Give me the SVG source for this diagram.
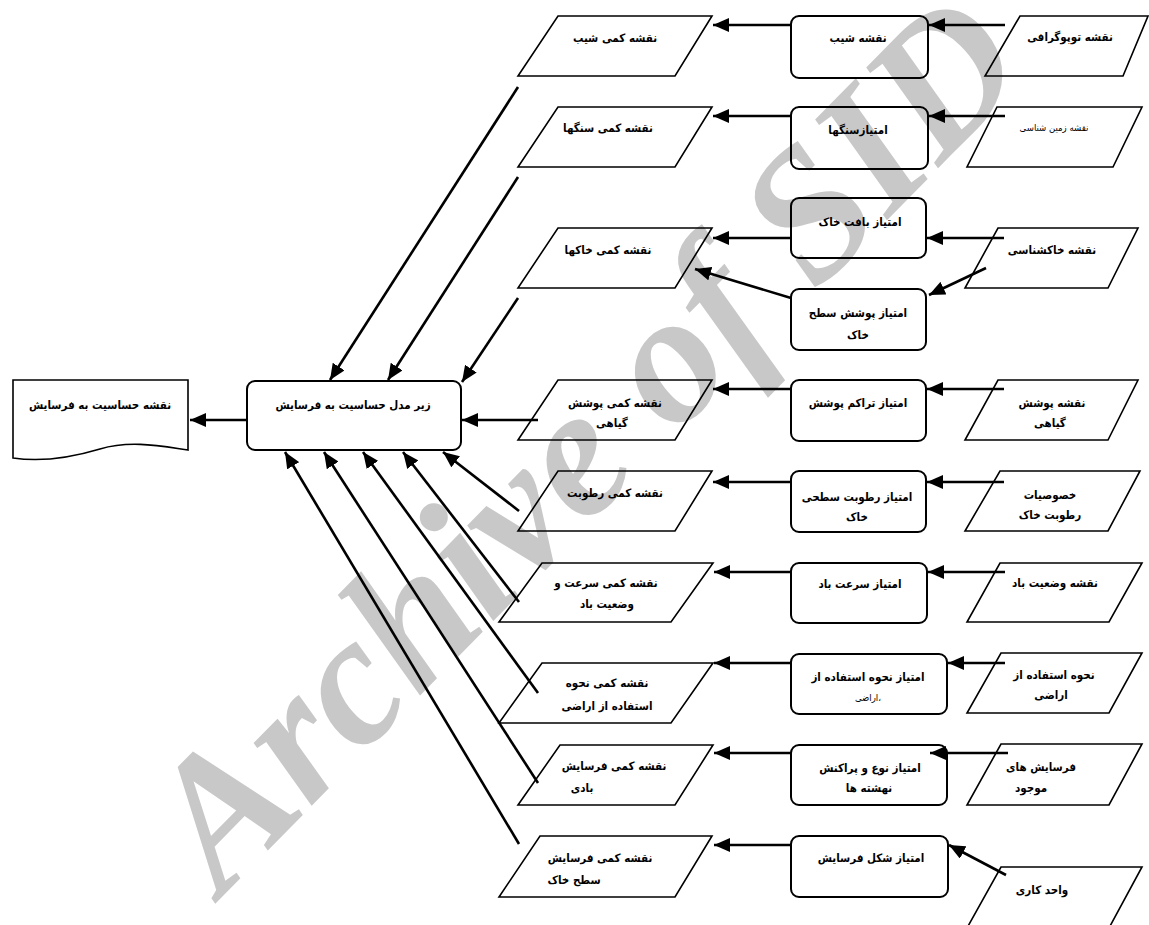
<svg xmlns="http://www.w3.org/2000/svg" width="1149" height="925" viewBox="0 0 1149 925">
<style>
.wm{font-family:"Liberation Serif",serif;font-weight:bold;font-style:italic;font-size:186px;fill:#c8c8c8}
.sh{fill:none;stroke:#000;stroke-width:1.6}
.rr{fill:none;stroke:#000;stroke-width:2}
.cn{fill:none;stroke:#000;stroke-width:2.6}
.t{font-family:"DejaVu Sans Condensed","DejaVu Sans",sans-serif;font-weight:bold;font-size:11.5px;fill:#000;text-anchor:middle}
.s{font-size:9.5px;font-weight:normal}
</style>
<defs>
<marker id="ah" markerUnits="userSpaceOnUse" markerWidth="17" markerHeight="14" refX="16" refY="7" orient="auto">
<path d="M0,0 L16,7 L0,14 Z" fill="#000"/>
</marker>
</defs>
<rect width="1149" height="925" fill="#fff"/>
<text class="wm" transform="translate(222,897) rotate(-45.5)">Archive of SID</text>

<g id="out"><path class="sh" d="M13,380 H188 V450 C160,446 130,440 100,449 C70,458 40,462 13,458 Z"/><text class="t" x="100" y="409">نقشه حساسیت به فرسایش</text></g>
<g id="sub"><rect class="rr" x="247" y="381" width="214" height="69" rx="8"/><text class="t" x="353" y="409">زیر مدل حساسیت به فرسایش</text></g>

<g id="p1"><path class="sh" d="M558,16 H712 L675,76 H518 Z"/><text class="t" x="615" y="42">نقشه کمی شیب</text></g>
<g id="p2"><path class="sh" d="M558,107 H712 L675,167 H518 Z"/><text class="t" x="608" y="132">نقشه کمی سنگها</text></g>
<g id="p3"><path class="sh" d="M558,228 H712 L675,288 H518 Z"/><text class="t" x="608" y="254">نقشه کمی خاکها</text></g>
<g id="p4"><path class="sh" d="M558,380 H712 L675,440 H518 Z"/><text class="t" x="615" y="407">نقشه کمی پوشش</text><text class="t" x="612" y="427">گیاهی</text></g>
<g id="p5"><path class="sh" d="M558,471 H712 L675,531 H518 Z"/><text class="t" x="615" y="497">نقشه کمی رطوبت</text></g>
<g id="p6"><path class="sh" d="M542,563 H713 L671,622 H499 Z"/><text class="t" x="606" y="587">نقشه کمی سرعت و</text><text class="t" x="607" y="608">وضعیت باد</text></g>
<g id="p7"><path class="sh" d="M542,663 H713 L671,723 H499 Z"/><text class="t" x="607" y="687">نقشه کمی نحوه</text><text class="t" x="607" y="710">استفاده از اراضی</text></g>
<g id="p8"><path class="sh" d="M560,745 H713 L675,805 H518 Z"/><text class="t" x="614" y="770">نقشه کمی فرسایش</text><text class="t" x="582" y="792">بادی</text></g>
<g id="p9"><path class="sh" d="M540,836 H712 L675,897 H499 Z"/><text class="t" x="600" y="862">نقشه کمی فرسایش</text><text class="t" x="574" y="884">سطح خاک</text></g>

<g id="r1"><rect class="rr" x="791" y="16" width="137" height="62" rx="8"/><text class="t" x="858" y="42">نقشه شیب</text></g>
<g id="r2"><rect class="rr" x="791" y="107" width="137" height="62" rx="8"/><text class="t" x="858" y="134">امتیازسنگها</text></g>
<g id="r3a"><rect class="rr" x="791" y="198" width="135" height="60" rx="8"/><text class="t" x="860" y="226">امتیاز بافت خاک</text></g>
<g id="r3b"><rect class="rr" x="791" y="289" width="135" height="61" rx="8"/><text class="t" x="858" y="317">امتیاز پوشش سطح</text><text class="t" x="858" y="339">خاک</text></g>
<g id="r4"><rect class="rr" x="791" y="380" width="135" height="61" rx="8"/><text class="t" x="858" y="407">امتیاز تراکم پوشش</text></g>
<g id="r5"><rect class="rr" x="791" y="471" width="135" height="61" rx="8"/><text class="t" x="857" y="501">امتیاز رطوبت سطحی</text><text class="t" x="857" y="521">خاک</text></g>
<g id="r6"><rect class="rr" x="791" y="563" width="136" height="60" rx="8"/><text class="t" x="860" y="588">امتیاز سرعت باد</text></g>
<g id="r7"><rect class="rr" x="791" y="654" width="156" height="60" rx="8"/><text class="t" x="868" y="681">امتیاز نحوه استفاده از</text><text class="t s" x="868" y="701">اراضی،</text></g>
<g id="r8"><rect class="rr" x="791" y="745" width="156" height="60" rx="8"/><text class="t" x="870" y="772">امتیاز نوع و پراکنش</text><text class="t" x="869" y="792">نهشته ها</text></g>
<g id="r9"><rect class="rr" x="791" y="836" width="157" height="61" rx="8"/><text class="t" x="871" y="862">امتیاز شکل فرسایش</text></g>

<g id="i1"><path class="sh" d="M1020,16 H1148 L1123,76 H985 Z"/><text class="t" x="1070" y="41">نقشه توپوگرافی</text></g>
<g id="i2"><path class="sh" d="M997,107 H1142 L1113,167 H967 Z"/><text class="t s" x="1054" y="131">نقشه زمین شناسی</text></g>
<g id="i3"><path class="sh" d="M998,228 H1138 L1108,288 H965 Z"/><text class="t" x="1052" y="254">نقشه خاکشناسی</text></g>
<g id="i4"><path class="sh" d="M998,380 H1138 L1108,440 H965 Z"/><text class="t" x="1052" y="407">نقشه پوشش</text><text class="t" x="1050" y="427">گیاهی</text></g>
<g id="i5"><path class="sh" d="M1000,471 H1140 L1108,531 H965 Z"/><text class="t" x="1050" y="499">خصوصیات</text><text class="t" x="1050" y="519">رطوبت خاک</text></g>
<g id="i6"><path class="sh" d="M1000,563 H1142 L1109,622 H967 Z"/><text class="t" x="1055" y="587">نقشه وضعیت باد</text></g>
<g id="i7"><path class="sh" d="M1001,653 H1142 L1109,713 H967 Z"/><text class="t" x="1054" y="679">نحوه استفاده از</text><text class="t" x="1051" y="699">اراضی</text></g>
<g id="i8"><path class="sh" d="M1001,744 H1142 L1109,805 H967 Z"/><text class="t" x="1041" y="771">فرسایش های</text><text class="t" x="1031" y="792">موجود</text></g>
<g id="i9"><path class="sh" d="M1001,867 H1142 L1109,928 H967 Z"/><text class="t" x="1042" y="894">واحد کاری</text></g>

<g id="connectors" class="cn" marker-end="url(#ah)">
<line x1="1005" y1="25" x2="929" y2="25"/>
<line x1="1005" y1="116" x2="929" y2="116"/>
<line x1="1004" y1="238" x2="927" y2="238"/>
<line x1="986" y1="268" x2="929" y2="295"/>
<line x1="1004" y1="389" x2="927" y2="389"/>
<line x1="1004" y1="482" x2="927" y2="482"/>
<line x1="1005" y1="572" x2="928" y2="572"/>
<line x1="1005" y1="663" x2="948" y2="663"/>
<line x1="1008" y1="753" x2="930" y2="753"/>
<line x1="1006" y1="875" x2="949" y2="845"/>
<line x1="791" y1="25" x2="713" y2="25"/>
<line x1="791" y1="116" x2="713" y2="116"/>
<line x1="791" y1="238" x2="713" y2="238"/>
<line x1="791" y1="298" x2="695" y2="269"/>
<line x1="791" y1="389" x2="713" y2="389"/>
<line x1="791" y1="482" x2="713" y2="482"/>
<line x1="791" y1="572" x2="714" y2="572"/>
<line x1="791" y1="663" x2="714" y2="663"/>
<line x1="791" y1="753" x2="714" y2="753"/>
<line x1="791" y1="845" x2="714" y2="845"/>
<line x1="518" y1="87" x2="330" y2="380"/>
<line x1="518" y1="177" x2="388" y2="380"/>
<line x1="518" y1="298" x2="462" y2="382"/>
<line x1="538" y1="420" x2="462" y2="420"/>
<line x1="247" y1="420" x2="190" y2="420"/>
<line x1="519" y1="511" x2="443" y2="452"/>
<line x1="519" y1="602" x2="403" y2="452"/>
<line x1="538" y1="693" x2="363" y2="452"/>
<line x1="538" y1="783" x2="324" y2="452"/>
<line x1="519" y1="844" x2="285" y2="452"/>
</g>
</svg>
